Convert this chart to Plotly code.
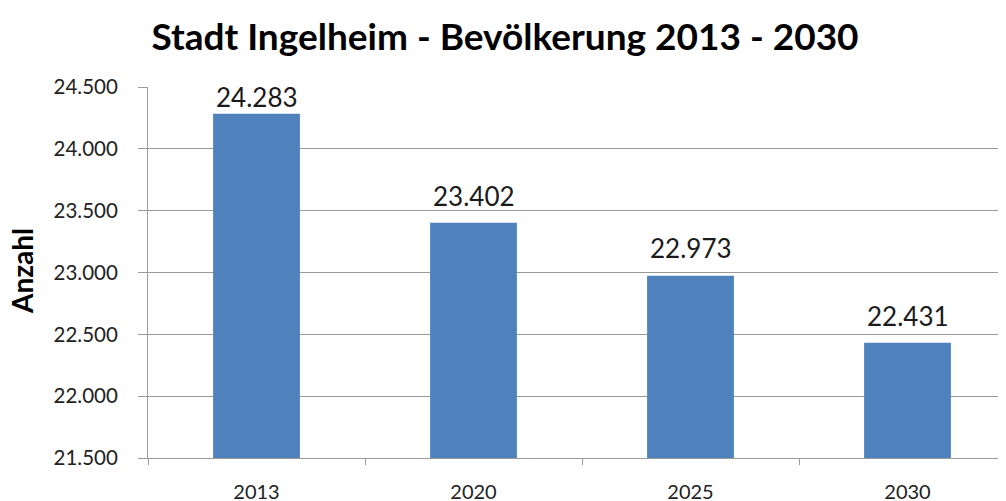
import plotly.graph_objects as go

years = ["2013", "2020", "2025", "2030"]
population = [24283, 23402, 22973, 22431]
y_tick_values = [21500, 22000, 22500, 23000, 23500, 24000, 24500]

title_text = "Stadt Ingelheim - Bevölkerung 2013 - 2030"
y_title = "Anzahl"

# distance of each label's centre above its bar top (pixels)
label_offsets = [17, 27, 28, 27]

FONT = "Lato, 'Open Sans', sans-serif"
W, H = 998, 493          # page body has an 8px margin
L, R, T, B = 140, 0, 79, 43
plot_w = W - L - R
plot_h = H - T - B

fig = go.Figure(
    go.Bar(
        x=years,
        y=population,
        marker=dict(color="#4F81BD", line=dict(width=0)),
        width=0.4,
        hoverinfo="x+y",
    )
)

# data labels; category axes take the category's serial index
for idx, (val, off) in enumerate(zip(population, label_offsets)):
    fig.add_annotation(
        x=idx,
        y=val,
        xref="x",
        yref="y",
        text=f"{val:,}".replace(",", "."),
        showarrow=False,
        yanchor="middle",
        yshift=off,
        font=dict(family=FONT, size=26, color="#1a1a1a"),
    )

fig.add_annotation(
    x=(14 - L) / plot_w,
    y=(H - B - 263) / plot_h,
    xref="paper",
    yref="paper",
    text="<b>" + y_title + "</b>",
    textangle=-90,
    showarrow=False,
    xanchor="center",
    yanchor="middle",
    font=dict(family=FONT, size=28, color="#000000"),
)

fig.update_layout(
    width=W,
    height=H,
    margin=dict(l=L, r=R, t=T, b=B, autoexpand=False),
    paper_bgcolor="white",
    plot_bgcolor="white",
    separators=",.",
    showlegend=False,
    title=dict(
        text="<b>" + title_text + "</b>",
        x=(505 - 8) / W,
        xanchor="center",
        yref="container",
        y=1 - 29 / H,
        yanchor="middle",
        font=dict(family=FONT, size=37, color="#000000"),
    ),
)

fig.update_yaxes(
    range=[21500, 24500],
    tickvals=y_tick_values,
    tickformat=",d",
    showgrid=True,
    gridcolor="#9a9a9a",
    gridwidth=1,
    showline=True,
    linecolor="#9a9a9a",
    linewidth=1,
    ticks="outside",
    ticklen=9,
    tickcolor="#9a9a9a",
    ticklabelstandoff=16,
    tickfont=dict(family=FONT, size=20.5, color="#222222"),
    zeroline=False,
)

fig.update_xaxes(
    type="category",
    range=[-0.5, -0.5 + plot_w / 217],
    showgrid=False,
    showline=True,
    linecolor="#9a9a9a",
    linewidth=1,
    ticks="outside",
    tickson="boundaries",
    ticklen=6,
    tickcolor="#9a9a9a",
    ticklabelstandoff=16,
    tickfont=dict(family=FONT, size=20, color="#222222"),
)

fig.write_html("out.html")
